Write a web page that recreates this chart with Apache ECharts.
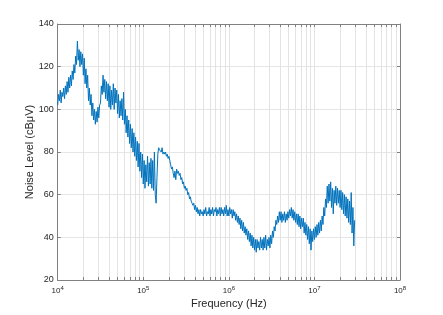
<!DOCTYPE html>
<html>
<head>
<meta charset="utf-8">
<script src="https://cdn.jsdelivr.net/npm/echarts@6/dist/echarts.min.js"></script>
<style>html,body{margin:0;padding:0;background:#fff}#c{width:443px;height:315px}</style>
</head>
<body>
<div id="c"></div>
<script>
// Sample grid: log10(f) starts at 4 with 0.01-decade steps
const logStart = 4;
const logStep = 0.01;
// Noise level, one value per sample
const noiseLevel = [
 102,107,104,109,103,108,106,110,105,111,
 107,113,108,115,110,116,111,118,114,121,
 117,125,121,132,123,128,120,127,121,126,
 116,124,112,119,110,116,104,110,102,107,
 97,103,95,100,93,99,94,101,96,102,
 103,111,107,116,108,114,105,113,104,112,
 101,111,100,109,102,112,100,110,103,109,
 98,107,96,104,97,105,95,108,93,100,
 89,97,87,95,84,93,82,91,80,89,
 78,87,76,85,73,84,71,80,68,79,
 65,76,63,74,66,78,64,75,65,77,
 63,76,62,80,60,56,68,79,82,81,
 81,80,82,79,80,79,80,78,79,77,
 78,76,74,72,73,70,68,71,67,72,
 70,71,69,70,67,68,65,66,63,64,
 62,63,60,61,58,59,57,56,55,56,
 53,55,52,54,51,53,50,53,51,52,
 50,53,51,54,50,52,51,54,50,53,
 51,54,50,53,52,54,50,53,51,54,
 50,54,51,53,50,54,51,55,50,53,
 50,54,51,53,49,53,50,52,48,51,
 47,50,46,49,44,48,43,47,42,45,
 41,44,39,43,38,42,36,41,35,40,
 34,39,33,39,35,38,34,40,35,39,
 34,40,35,41,34,39,36,40,35,41,
 37,43,40,45,43,48,46,50,47,52,
 48,52,47,51,48,52,47,51,48,52,
 49,53,50,54,49,53,48,52,47,51,
 46,51,45,50,44,49,45,49,42,47,
 41,46,39,45,37,44,34,43,38,44,
 39,45,40,46,41,47,42,48,43,50,
 46,54,50,58,54,64,56,65,57,66,
 54,63,51,62,56,64,55,63,56,62,
 54,62,53,61,51,60,50,59,49,58,
 47,57,46,61,42,54,36,48
];
const yTicks = [20, 40, 60, 80, 100, 120, 140];
const xDecades = [1e4, 1e5, 1e6, 1e7, 1e8];
const xGridValues = [
 1e4,2e4,3e4,4e4,5e4,6e4,7e4,8e4,9e4,
 1e5,2e5,3e5,4e5,5e5,6e5,7e5,8e5,9e5,
 1e6,2e6,3e6,4e6,5e6,6e6,7e6,8e6,9e6,
 1e7,2e7,3e7,4e7,5e7,6e7,7e7,8e7,9e7,1e8
];
const xTitle = 'Frequency (Hz)';
const yTitle = 'Noise Level (cBμV)';

const seriesData = noiseLevel.map((v, i) => [Math.pow(10, logStart + i * logStep), v]);

const axisColor = '#808080';
const textColor = '#262626';
const chart = echarts.init(document.getElementById('c'), null, {renderer: 'canvas'});
chart.setOption({
  animation: false,
  backgroundColor: '#fff',
  grid: {left: 57.7, right: 43, top: 24, bottom: 35},
  xAxis: [{
    type: 'log', logBase: 10, min: 1e4, max: 1e8,
    name: xTitle, nameLocation: 'middle', nameGap: 18, nameMoveOverlap: false,
    nameTextStyle: {fontFamily: 'Liberation Sans', fontSize: 11, color: textColor},
    axisLine: {show: true, lineStyle: {color: axisColor, width: 1}},
    axisTick: {show: true, inside: true, length: 3, lineStyle: {color: axisColor}, customValues: xGridValues},
    axisLabel: {
      customValues: xDecades,
      fontFamily: 'Liberation Sans', fontSize: 8, color: textColor, margin: 5,
      formatter: v => '10{s|' + Math.round(Math.log10(v)) + '}',
      rich: {s: {fontSize: 6, fontFamily: 'Liberation Sans', color: textColor, padding: [0, 0, 5, 0]}}
    },
    splitLine: {show: true, lineStyle: {color: '#e3e3e3', width: 1}},
    minorTick: {show: false}
  }, {
    type: 'log', logBase: 10, min: 1e4, max: 1e8, position: 'top',
    axisLine: {show: true, lineStyle: {color: axisColor, width: 1}},
    axisTick: {show: true, inside: true, length: 3, lineStyle: {color: axisColor}, customValues: xGridValues},
    axisLabel: {show: false},
    splitLine: {show: false}
  }],
  yAxis: [{
    type: 'value', min: 20, max: 140, interval: 20,
    name: yTitle, nameLocation: 'middle', nameGap: 22, nameMoveOverlap: false,
    nameTextStyle: {fontFamily: 'Liberation Sans', fontSize: 11, color: textColor},
    axisLine: {show: true, lineStyle: {color: axisColor, width: 1}},
    axisTick: {show: true, inside: true, length: 3, lineStyle: {color: axisColor}},
    axisLabel: {fontFamily: 'Liberation Sans', fontSize: 9, color: textColor, margin: 4,
      customValues: yTicks},
    splitLine: {show: true, lineStyle: {color: '#e6e6e6', width: 1}}
  }, {
    type: 'value', min: 20, max: 140, interval: 20, position: 'right',
    axisLine: {show: true, lineStyle: {color: axisColor, width: 1}},
    axisTick: {show: true, inside: true, length: 3, lineStyle: {color: axisColor}},
    axisLabel: {show: false},
    splitLine: {show: false}
  }],
  series: [{
    type: 'line',
    data: seriesData,
    xAxisIndex: 0, yAxisIndex: 0,
    showSymbol: false,
    symbol: 'none',
    lineStyle: {color: '#0072BD', width: 1},
    sampling: null,
    silent: true,
    z: 5
  }]
});
</script>
</body>
</html>
